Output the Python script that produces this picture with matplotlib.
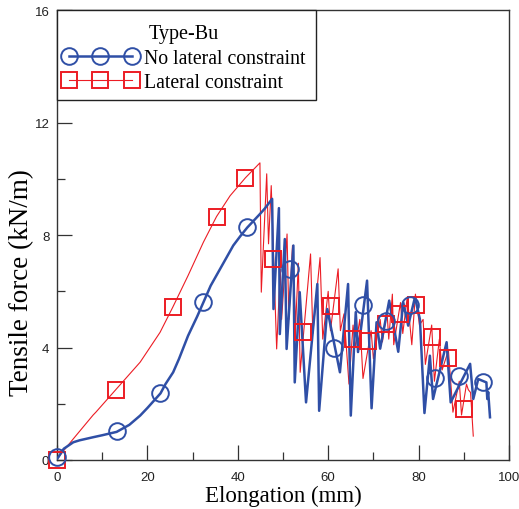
import matplotlib
matplotlib.use("Agg")
import matplotlib.pyplot as plt
from matplotlib.lines import Line2D
from matplotlib.patches import Rectangle
from matplotlib.ticker import MultipleLocator

# ---- data ----
blue_x = [0.0, 0.3, 1.5, 3.6, 5.0, 8.0, 10.0, 13.2, 16.0, 18.4, 20.0, 22.9, 24.0, 25.7, 27.0,
          29.0, 31.0, 32.4, 34.0, 36.1, 37.5, 39.0, 40.5, 42.1, 44.9, 46.0, 47.6,
          47.9, 49.1, 49.3, 50.4, 50.8, 52.3, 52.6, 53.7, 55.1, 57.6, 58.0, 59.8, 62.6, 64.4,
          65.0, 66.1, 66.6, 68.6, 69.6, 70.7, 71.5, 73.5, 75.5, 76.6, 77.7, 79.2, 80.3, 81.3,
          82.5, 83.2, 86.2, 87.1, 91.4, 92.1, 93.2, 95.0, 95.2, 95.4, 95.8]
blue_y = [0.05, 0.1, 0.4, 0.63, 0.7, 0.81, 0.88, 1.0, 1.25, 1.58, 1.85, 2.37, 2.7, 3.12, 3.6,
          4.42, 5.1, 5.61, 6.2, 6.8, 7.2, 7.63, 7.95, 8.27, 8.75, 8.95, 9.29,
          5.37, 8.96, 4.48, 7.86, 3.95, 7.63, 2.76, 5.97, 2.05, 6.26, 1.75, 5.37, 3.12, 6.26,
          1.58, 5.26, 3.84, 6.38, 1.84, 4.9, 3.96, 5.67, 3.85, 5.61, 4.78, 5.79, 5.0, 1.67,
          3.71, 2.17, 4.19, 2.05, 3.42, 2.17, 2.88, 2.76, 2.17, 2.42, 1.52]

red_x = [0.0, 0.3, 3.6, 8.0, 8.6, 13.0, 18.4, 22.8, 25.6, 29.0, 32.4, 35.3, 38.3, 41.7, 44.9,
         45.2, 46.4, 46.8, 47.4, 48.6, 49.4, 49.7, 50.9, 51.3, 52.1, 52.8, 53.4, 53.8, 56.1,
         56.6, 58.2, 58.8, 60.0, 60.5, 62.2, 62.7, 63.5, 64.6, 65.5, 66.0, 67.0, 67.7, 69.5,
         70.0, 71.5, 72.0, 73.0, 73.4, 74.2, 74.5, 76.0, 76.5, 77.5, 78.5, 79.3, 80.2, 81.0,
         81.5, 82.9, 83.5, 84.6, 85.2, 86.6, 87.6, 89.0, 89.5, 90.6, 91.0, 91.5, 92.1]
red_y = [0.0, 0.1, 0.75, 1.6, 1.7, 2.5, 3.48, 4.54, 5.43, 6.56, 7.75, 8.66, 9.4, 10.04, 10.57,
         5.97, 10.18, 7.69, 9.76, 3.95, 6.8, 5.0, 8.04, 5.0, 7.63, 4.8, 7.0, 3.12, 7.33,
         4.5, 7.2, 4.3, 6.0, 4.6, 6.8, 4.6, 5.2, 2.7, 4.8, 4.0, 5.0, 2.9, 4.6,
         3.6, 5.0, 4.2, 5.3, 4.3, 5.9, 4.1, 5.6, 4.5, 5.8, 4.1, 5.9, 4.8, 5.0,
         3.4, 4.8, 2.8, 4.3, 3.2, 3.9, 1.7, 2.8, 1.6, 2.7, 2.5, 2.4, 0.85]

blue_mx = [0.0, 13.3, 22.8, 32.3, 42.0, 51.5, 61.2, 67.6, 72.8, 78.1, 83.6, 88.9, 94.2]
blue_my = [0.1, 1.03, 2.38, 5.62, 8.29, 6.8, 4.0, 5.5, 4.95, 5.52, 2.92, 2.99, 2.78]

red_mx = [0.0, 13.0, 25.6, 35.3, 41.7, 47.9, 54.4, 60.6, 65.6, 68.7, 72.8, 75.9, 79.4, 83.0, 86.5, 90.0]
red_my = [0.0, 2.49, 5.43, 8.66, 10.04, 7.15, 4.54, 5.47, 4.31, 4.25, 4.85, 5.2, 5.5, 4.37, 3.63, 1.81]

legend_title = "Type-Bu"
label_blue = "No lateral constraint"
label_red = "Lateral constraint"

BLUE = "#2f4fa6"
RED = "#ec1c24"

fig = plt.figure(figsize=(5.19, 5.10), dpi=100)
ax = fig.add_axes([0.1098, 0.0961, 0.8709, 0.8819])

ax.plot(red_x, red_y, color=RED, lw=0.8, zorder=2)
ax.plot(blue_x, blue_y, color=BLUE, lw=1.8, zorder=3)
ax.plot(red_mx, red_my, ls="none", marker="s", ms=12, mfc="none", mec=RED, mew=1.4,
        zorder=4, clip_on=False)
ax.plot(blue_mx, blue_my, ls="none", marker="o", ms=12, mfc="none", mec=BLUE, mew=1.4,
        zorder=5, clip_on=False)

ax.set_xlim(0, 100)
ax.set_ylim(0, 16)
ax.xaxis.set_major_locator(MultipleLocator(20))
ax.xaxis.set_minor_locator(MultipleLocator(10))
ax.yaxis.set_major_locator(MultipleLocator(4))
ax.yaxis.set_minor_locator(MultipleLocator(2))
ax.tick_params(which="major", direction="in", length=11, width=0.9, color="#333333",
               labelsize=9.5, labelcolor="#222222")
ax.tick_params(which="minor", direction="in", length=5.5, width=0.9, color="#333333")
ax.tick_params(axis="x", pad=8)
ax.tick_params(axis="y", pad=5.5)
for lab in ax.get_xticklabels() + ax.get_yticklabels():
    lab.set_family("Liberation Sans")
for sp in ax.spines.values():
    sp.set_color("#333333")
    sp.set_linewidth(1.0)

ax.set_xlabel("Elongation (mm)", family="Liberation Serif", fontsize=16.5, labelpad=1)
ax.set_ylabel("Tensile force (kN/m)", family="Liberation Serif", fontsize=19.5)
ax.yaxis.set_label_coords(-0.05, 0.397)

# legend frame (drawn separately so paddings match the reference)
ax.add_patch(Rectangle((0.0, 0.8), 0.573, 0.2, transform=ax.transAxes, fill=True,
                       facecolor="white", edgecolor="#222222", lw=1.0, zorder=9,
                       clip_on=False))
h_blue = Line2D([], [], color=BLUE, lw=1.8, marker="o", ms=12, mfc="none", mec=BLUE, mew=1.4)
h_red = Line2D([], [], color=RED, lw=0.8, marker="s", ms=12, mfc="none", mec=RED, mew=1.4)
leg = ax.legend([h_blue, h_red], [label_blue, label_red], title=legend_title,
                loc="upper left", bbox_to_anchor=(0.013, 0.969), numpoints=3, handlelength=3.8,
                handletextpad=0.3, borderpad=0.0, labelspacing=0.28, frameon=False,
                borderaxespad=0,
                prop={"family": "Liberation Serif", "size": 14.2},
                title_fontproperties={"family": "Liberation Serif", "size": 14.5})
leg.set_zorder(10)

fig.savefig("out.png", dpi=100)
